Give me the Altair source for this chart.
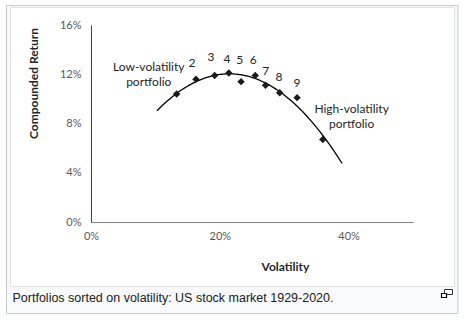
import altair as alt
import pandas as pd

# Portfolio data (volatility %, compounded return %)
portfolio = [1, 2, 3, 4, 5, 6, 7, 8, 9, 10]
volatility = [13.3, 16.3, 19.2, 21.4, 23.3, 25.5, 27.1, 29.3, 32.0, 36.0]
comp_return = [10.4, 11.6, 11.9, 12.1, 11.4, 11.9, 11.1, 10.5, 10.1, 6.7]

# Number labels (2..9) anchored in data units
num_text = ["2", "3", "4", "5", "6", "7", "8", "9"]
num_x = [15.7, 18.65, 21.1, 23.1, 25.2, 27.15, 29.2, 32.0]
num_y = [12.92, 13.38, 13.2, 13.12, 13.17, 12.25, 11.8, 11.3]

# Text annotations
ann_text = ["Low-volatility", "portfolio", "High-volatility", "portfolio"]
ann_x = [8.97, 8.97, 40.47, 40.47]
ann_y = [12.57, 11.41, 9.14, 8.0]

trend_extent = [10.25, 39.0]
caption = "Portfolios sorted on volatility: US stock market 1929-2020."

df = pd.DataFrame({"p": portfolio, "vol": volatility, "ret": comp_return})
nums = pd.DataFrame({"t": num_text, "vol": num_x, "ret": num_y})
anns = pd.DataFrame({"t": ann_text, "vol": ann_x, "ret": ann_y})

W, H = 322, 197
PL, PT = 91, 25

xs = alt.Scale(domain=[0, 50], nice=False)
ys = alt.Scale(domain=[0, 16], nice=False)

xax = alt.Axis(values=[0, 20, 40], labelExpr="datum.value + '%'", ticks=False, grid=False,
               labelFlush=False,
               domainColor="#7f7f7f", labelColor="#595959", labelFont="Lato", labelFontSize=11,
               labelPadding=8, title="Volatility", titleFont="Lato", titleFontSize=12,
               titleFontWeight="bold", titleColor="#262626", titleX=194, titleY=44,
               titleBaseline="middle", zindex=1)
yax = alt.Axis(values=[0, 4, 8, 12, 16], labelExpr="datum.value + '%'", ticks=False, grid=False,
               labelFlush=False,
               domainColor="#404040", labelColor="#595959", labelFont="Lato", labelFontSize=11,
               labelPadding=10, title="Compounded Return", titleFont="Lato", titleFontSize=12,
               titleFontWeight="bold", titleColor="#262626", titleX=-58, titleY=58,
               titleBaseline="middle", titleAlign="center", zindex=1)

base = alt.Chart(df)

# decorative frame (wiki thumbnail box)
frame_df = pd.DataFrame({"k": [0]})
outer = alt.Chart(frame_df).mark_rect(fill="#f8f9fa", stroke="#c8ccd1", strokeWidth=1).encode(
    x=alt.value(-84.5), x2=alt.value(367), y=alt.value(-19.5), y2=alt.value(288.5))
inner = alt.Chart(frame_df).mark_rect(fill="#ffffff", stroke="#dfe1e4", strokeWidth=1).encode(
    x=alt.value(-80.5), x2=alt.value(363.5), y=alt.value(-17.5), y2=alt.value(261.5))
cap = alt.Chart(frame_df).mark_text(align="left", baseline="middle", font="Liberation Sans",
                                     fontSize=12.5, color="#202122").encode(
    x=alt.value(-78.5), y=alt.value(272.5), text=alt.value(caption))
icon1 = alt.Chart(frame_df).mark_rect(fill="#ffffff", stroke="#333333", strokeWidth=1).encode(
    x=alt.value(353.5), x2=alt.value(361.5), y=alt.value(264.5), y2=alt.value(269.5))
icon2 = alt.Chart(frame_df).mark_rect(fill="#ffffff", stroke="#000000", strokeWidth=1.2).encode(
    x=alt.value(350.5), x2=alt.value(355.5), y=alt.value(268.5), y2=alt.value(272.5))

trend = base.transform_regression("vol", "ret", method="poly", order=2,
                                  extent=trend_extent).mark_line(
    color="#000000", strokeWidth=1.3).encode(
    x=alt.X("vol:Q", scale=xs, axis=xax),
    y=alt.Y("ret:Q", scale=ys, axis=yax))

pts = base.mark_point(shape="diamond", filled=True, size=55, color="#1e1a16", opacity=1).encode(
    x=alt.X("vol:Q", scale=xs), y=alt.Y("ret:Q", scale=ys))

num_layer = alt.Chart(nums).mark_text(font="Lato", fontSize=12, color="#262626",
                                      baseline="middle").encode(
    x=alt.X("vol:Q", scale=xs), y=alt.Y("ret:Q", scale=ys), text="t:N")

ann_layer = alt.Chart(anns).mark_text(font="Lato", fontSize=12, color="#262626",
                                      baseline="middle").encode(
    x=alt.X("vol:Q", scale=xs), y=alt.Y("ret:Q", scale=ys), text="t:N")

chart = alt.layer(outer, inner, cap, icon1, icon2, trend, pts, num_layer, ann_layer).properties(
    width=W, height=H,
    autosize=alt.AutoSizeParams(type="none"),
    padding={"left": PL, "top": PT, "right": 468 - PL - W, "bottom": 322 - PT - H},
    background="#ffffff",
).configure_view(stroke=None)

chart.save("out.html", embed_options={"renderer": "svg", "actions": False})
